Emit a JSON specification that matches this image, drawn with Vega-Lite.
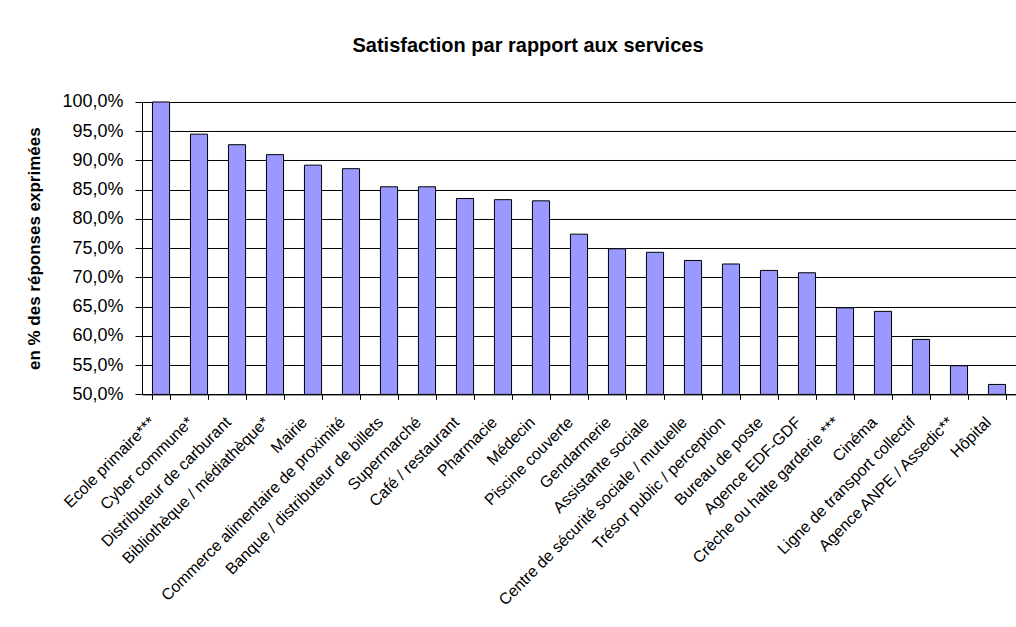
{
  "$schema": "https://vega.github.io/schema/vega-lite/v6.json",
  "autosize": {"type": "none"},
  "padding": {"left": 142, "top": 102, "right": 0, "bottom": 232},
  "width": 874,
  "height": 292.4,
  "background": "white",
  "title": {
    "text": "Satisfaction par rapport aux services",
    "anchor": "middle",
    "frame": "group",
    "dx": -51,
    "offset": 21,
    "baseline": "alphabetic",
    "font": "Liberation Sans",
    "fontSize": 20,
    "fontWeight": "bold",
    "color": "black"
  },
  "data": {
    "values": [
      {"service": "Ecole primaire***", "pct": 1.0},
      {"service": "Cyber commune*", "pct": 0.945},
      {"service": "Distributeur de carburant", "pct": 0.927},
      {"service": "Bibliothèque / médiathèque*", "pct": 0.910},
      {"service": "Mairie", "pct": 0.892},
      {"service": "Commerce alimentaire de proximité", "pct": 0.886},
      {"service": "Banque / distributeur de billets", "pct": 0.855},
      {"service": "Supermarché", "pct": 0.855},
      {"service": "Café / restaurant", "pct": 0.835},
      {"service": "Pharmacie", "pct": 0.833},
      {"service": "Médecin", "pct": 0.831},
      {"service": "Piscine couverte", "pct": 0.774},
      {"service": "Gendarmerie", "pct": 0.749},
      {"service": "Assistante sociale", "pct": 0.743},
      {"service": "Centre de sécurité sociale / mutuelle", "pct": 0.729},
      {"service": "Trésor public / perception", "pct": 0.723},
      {"service": "Bureau de poste", "pct": 0.712},
      {"service": "Agence EDF-GDF", "pct": 0.708},
      {"service": "Crèche ou halte garderie ***", "pct": 0.648},
      {"service": "Cinéma", "pct": 0.642},
      {"service": "Ligne de transport collectif", "pct": 0.594},
      {"service": "Agence ANPE / Assedic**", "pct": 0.549},
      {"service": "Hôpital", "pct": 0.517}
    ]
  },
  "mark": {"type": "bar", "fill": "#9999FF", "stroke": "black", "strokeWidth": 1},
  "encoding": {
    "x": {
      "field": "service",
      "type": "nominal",
      "sort": null,
      "scale": {"paddingInner": 0.55, "paddingOuter": 0.275},
      "axis": {
        "title": null,
        "labelAngle": -45,
        "labelAlign": "right",
        "labelBaseline": "middle",
        "labelOffset": -9,
        "labelPadding": 20,
        "labelFont": "Liberation Sans",
        "labelFontSize": 16,
        "labelColor": "black",
        "labelLimit": 0,
        "labelOverlap": false,
        "tickBand": "extent",
        "tickSize": 5,
        "tickColor": "black",
        "domainColor": "black",
        "grid": false
      }
    },
    "y": {
      "field": "pct",
      "type": "quantitative",
      "scale": {"domain": [0.5, 1.0], "nice": false, "zero": false},
      "axis": {
        "title": "en % des réponses exprimées",
        "titleFont": "Liberation Sans",
        "titleFontSize": 17,
        "titleFontWeight": "bold",
        "titleColor": "black",
        "titlePadding": 18,
        "format": ".1%",
        "values": [0.5, 0.55, 0.6, 0.65, 0.7, 0.75, 0.8, 0.85, 0.9, 0.95, 1.0],
        "labelFont": "Liberation Sans",
        "labelFontSize": 18,
        "labelColor": "black",
        "labelPadding": 12,
        "tickSize": 7,
        "tickColor": "black",
        "domainColor": "black",
        "grid": true,
        "gridColor": "black",
        "gridWidth": 1
      }
    },
    "y2": {"datum": 0.5}
  },
  "config": {
    "view": {"stroke": null},
    "locale": {
      "number": {"decimal": ",", "thousands": " ", "grouping": [3], "currency": ["", " €"]}
    }
  }
}
